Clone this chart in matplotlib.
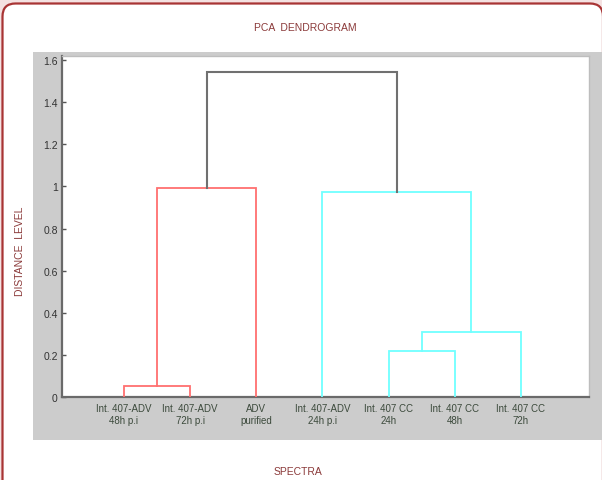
import matplotlib
matplotlib.use("Agg")
import matplotlib.pyplot as plt
from matplotlib.patches import Rectangle, FancyBboxPatch
from matplotlib.transforms import IdentityTransform

plt.rcParams['font.family'] = ['Liberation Sans', 'DejaVu Sans']

# Leaves in dendrogram order
leaf_labels = [
    "Int. 407-ADV\n48h p.i",
    "Int. 407-ADV\n72h p.i",
    "ADV\npurified",
    "Int. 407-ADV\n24h p.i",
    "Int. 407 CC\n24h",
    "Int. 407 CC\n48h",
    "Int. 407 CC\n72h",
]

# Merges: (left node, right node, distance, branch colour)
# nodes 0..6 are leaves, new clusters get ids 7, 8, ...
merge_left = [0, 4, 8, 7, 3, 10]
merge_right = [1, 5, 6, 2, 9, 11]
merge_height = [0.05, 0.218, 0.309, 0.99, 0.973, 1.543]
merge_color = ["#ff7070", "#70ffff", "#70ffff", "#ff7070", "#70ffff", "#707070"]

yticks = [0, 0.2, 0.4, 0.6, 0.8, 1.0, 1.2, 1.4, 1.6]
ytick_labels = ["0", "0.2", "0.4", "0.6", "0.8", "1", "1.2", "1.4", "1.6"]

W, H = 602, 481
fig = plt.figure(figsize=(W / 100, H / 100), dpi=100)
fig.patch.set_facecolor("#f4e2e2")

# rounded white card with dark red outline
card = FancyBboxPatch((2.5, -30), 603 - 2.5, H - 4.5 + 30,
                      boxstyle="round,pad=0,rounding_size=13",
                      transform=IdentityTransform(), facecolor="white",
                      edgecolor="#a83434", linewidth=1.6, zorder=0)
fig.patches.append(card)

# grey panel behind the axes
panel = Rectangle((33 / W, 1 - 441 / H), 1.0, (441 - 53) / H,
                  transform=fig.transFigure, facecolor="#cccccc",
                  edgecolor="none", zorder=1)
fig.patches.append(panel)

ax = fig.add_axes([62 / W, 1 - 398 / H, (589 - 62) / W, (398 - 57) / H])
ax.set_zorder(2)
ax.set_facecolor("white")

# positions of each node along x, heights along y
xpos = {i: float(i + 1) for i in range(len(leaf_labels))}
ypos = {i: 0.0 for i in range(len(leaf_labels))}
node = len(leaf_labels)
for a, b, h, c in zip(merge_left, merge_right, merge_height, merge_color):
    xa, xb = xpos[a], xpos[b]
    ya, yb = ypos[a], ypos[b]
    lw = 1.5 if c == "#707070" else 1.3
    ax.plot([xa, xa, xb, xb], [ya, h, h, yb], color=c, linewidth=lw,
            solid_joinstyle="miter", zorder=3)
    xpos[node] = (xa + xb) / 2
    ypos[node] = h
    node += 1

ax.set_xlim(0.065, 8.03)
ax.set_ylim(0, 1.619)
ax.set_xticks(range(1, len(leaf_labels) + 1))
ax.set_xticklabels(leaf_labels, fontsize=7, color="#3c4a3c", linespacing=1.25)
ax.set_yticks(yticks)
ax.set_yticklabels(ytick_labels, fontsize=7.5, color="#333333")
ax.tick_params(axis="x", length=0, pad=4)
ax.tick_params(axis="y", direction="in", length=3, width=1, color="#555555", pad=3)

for side in ("left", "bottom"):
    ax.spines[side].set_color("#6a6a6a")
    ax.spines[side].set_linewidth(1.6)
for side in ("top", "right"):
    ax.spines[side].set_color("#bdbdbd")
    ax.spines[side].set_linewidth(1.0)

title_color = "#8b3a3a"
fig.text(305 / W, 1 - 28 / H, "PCA  DENDROGRAM", ha="center", va="center",
         fontsize=7.5, color=title_color)
fig.text(298 / W, 1 - 472 / H, "SPECTRA", ha="center", va="center",
         fontsize=7.5, color=title_color)
fig.text(20 / W, 1 - 251 / H, "DISTANCE  LEVEL", ha="center", va="center",
         rotation=90, fontsize=7.5, color=title_color)

fig.savefig("out.png", dpi=100, facecolor=fig.get_facecolor())
